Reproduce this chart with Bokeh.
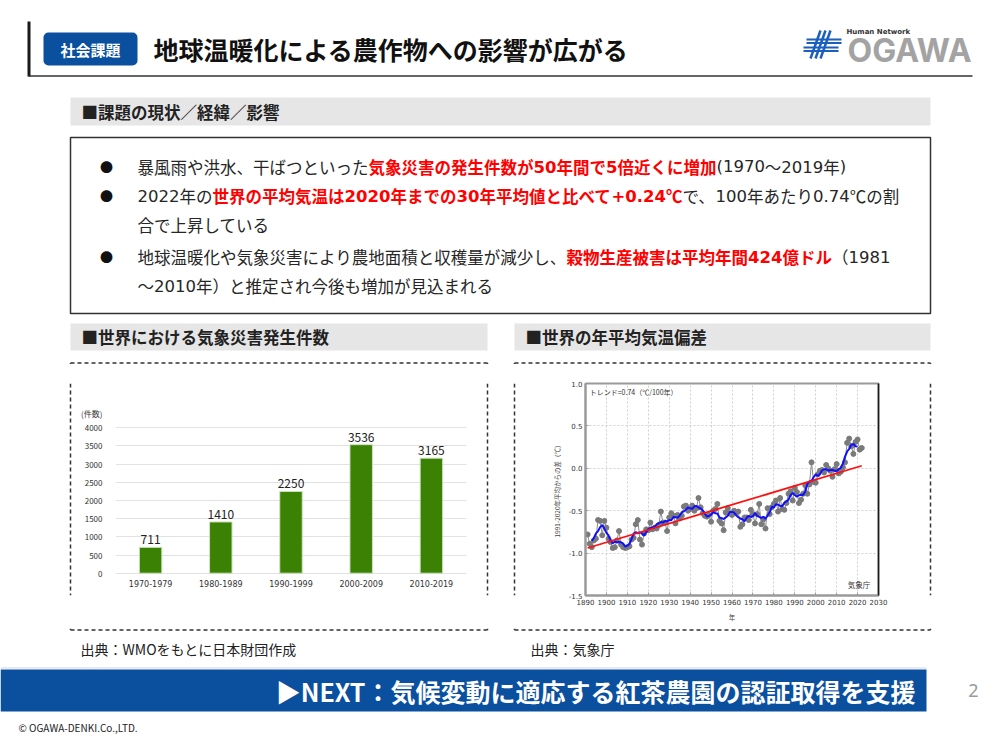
from bokeh.plotting import figure
from bokeh.layouts import column, row
from bokeh.models import (Range1d, FactorRange, ColumnDataSource, Label, FixedTicker,
                          NumeralTickFormatter, LinearAxis)
from bokeh.core.properties import value
from bokeh.embed import file_html
from bokeh.resources import INLINE
import pandas as pd

# ---------------- data ----------------
decades = ["1970-1979", "1980-1989", "1990-1999", "2000-2009", "2010-2019"]
disasters = [711, 1410, 2250, 3536, 3165]
bar_yticks = [0, 500, 1000, 1500, 2000, 2500, 3000, 3500, 4000]
bar_unit_label = "(件数)"
bar_unit_level = 4390

years = list(range(1891, 2023))
anomaly = [
    -0.78, -0.89, -0.93, -0.85, -0.83, -0.61, -0.62, -0.79, -0.62, -0.70,   # 1891-1900
    -0.83, -0.87, -0.94, -0.93, -0.85, -0.74, -0.90, -0.93, -0.94, -0.93,   # 1901-1910
    -0.92, -0.84, -0.82, -0.66, -0.61, -0.84, -0.90, -0.77, -0.72, -0.73,   # 1911-1920
    -0.64, -0.72, -0.70, -0.71, -0.67, -0.51, -0.64, -0.64, -0.74, -0.58,   # 1921-1930
    -0.53, -0.56, -0.65, -0.55, -0.59, -0.56, -0.45, -0.44, -0.50, -0.48,   # 1931-1940
    -0.44, -0.50, -0.47, -0.35, -0.46, -0.53, -0.56, -0.57, -0.55, -0.63,   # 1941-1950
    -0.50, -0.48, -0.42, -0.62, -0.65, -0.73, -0.52, -0.47, -0.53, -0.55,   # 1951-1960
    -0.50, -0.52, -0.51, -0.69, -0.66, -0.58, -0.58, -0.61, -0.49, -0.54,   # 1961-1970
    -0.65, -0.54, -0.42, -0.66, -0.60, -0.71, -0.47, -0.54, -0.46, -0.42,   # 1971-1980
    -0.38, -0.51, -0.35, -0.48, -0.49, -0.41, -0.30, -0.27, -0.38, -0.23,   # 1981-1990
    -0.28, -0.41, -0.37, -0.30, -0.20, -0.30, -0.19, 0.07, -0.16, -0.17,    # 1991-2000
    -0.07, -0.03, -0.02, -0.05, 0.04, 0.00, -0.03, -0.10, -0.01, 0.05,      # 2001-2010
    -0.06, -0.04, 0.01, 0.07, 0.30, 0.35, 0.26, 0.17, 0.31, 0.34,           # 2011-2020
    0.22, 0.24,                                                             # 2021-2022
]
trend_years = [1891, 2022]
trend_values = [-0.94, 0.03]
temp_xticks = list(range(1890, 2031, 10))
temp_yticks = [-1.5, -1.0, -0.5, 0.0, 0.5, 1.0]

# slide texts
title_text = "地球温暖化による農作物への影響が広がる"
badge_text = "社会課題"
section_texts = ["■課題の現状／経緯／影響", "■世界における気象災害発生件数", "■世界の年平均気温偏差"]
bullet_lines = [
    [("暴風雨や洪水、干ばつといった", False), ("気象災害の発生件数が50年間で5倍近くに増加", True), ("(1970～2019年)", False)],
    [("2022年の", False), ("世界の平均気温は2020年までの30年平均値と比べて+0.24℃", True), ("で、100年あたり0.74℃の割", False)],
    [("合で上昇している", False)],
    [("地球温暖化や気象災害により農地面積と収穫量が減少し、", False), ("穀物生産被害は平均年間424億ドル", True), ("（1981", False)],
    [("～2010年）と推定され今後も増加が見込まれる", False)],
]
bullet_marks = [True, True, False, True, False]
source_texts = ["出典：WMOをもとに日本財団作成", "出典：気象庁"]
banner_text = "▶NEXT：気候変動に適応する紅茶農園の認証取得を支援"
copyright_text = "© OGAWA-DENKI.Co.,LTD."

# layout (slide pixels)
line_y = [166, 195, 224, 256, 285]
TEXT_X0 = 137
EM = 16.5

JP = value("Noto Sans CJK JP")
LAT = value("DejaVu Sans")
DARK = "#222222"
BLUE = "#0b4f9f"
GRAYBAR = "#e6e6e6"
DASH = "4 3"


def canvas(w, h, x0, y0):
    p = figure(width=w, height=h, x_range=Range1d(x0, x0 + w), y_range=Range1d(y0 + h, y0),
               toolbar_location=None, output_backend="svg", min_border=0,
               x_axis_location=None, y_axis_location=None)
    p.grid.visible = False
    p.outline_line_color = None
    p.background_fill_color = "white"
    p.border_fill_color = "white"
    return p


def txt(p, x, y, s, size, color=DARK, bold=False, align="left", baseline="middle", font=JP):
    p.text(x=[x], y=[y], text=[s], text_font=font, text_font_size=f"{size}px",
           text_color=color, text_font_style="bold" if bold else "normal",
           text_align=align, text_baseline=baseline)


def ascii_w(ch, bold):
    if ch.isdigit():
        return 0.696 if bold else 0.636
    return {"(": 0.457 if bold else 0.390, ")": 0.457 if bold else 0.390,
            ".": 0.380 if bold else 0.318, "+": 0.838, " ": 0.318}.get(ch, 0.65)


def runs_of(s):
    out, cur, cur_ascii = [], "", None
    for ch in s:
        a = ord(ch) < 128
        if cur and a != cur_ascii:
            out.append((cur, cur_ascii))
            cur = ""
        cur += ch
        cur_ascii = a
    if cur:
        out.append((cur, cur_ascii))
    return out


# ---------------- top canvas ----------------
top = canvas(984, 364, 0, 0)
top.segment(x0=[28.5], y0=[21], x1=[28.5], y1=[76], line_color="#1a1a1a", line_width=3)
top.segment(x0=[28], y0=[75.5], x1=[972], y1=[75.5], line_color="#333333", line_width=1.5)
try:
    top.quad(left=[43], right=[137], top=[32], bottom=[65], fill_color=BLUE, line_color=None, border_radius=5)
except Exception:
    top.quad(left=[43], right=[137], top=[32], bottom=[65], fill_color=BLUE, line_color=None)
txt(top, 90, 48.5, badge_text, 15, color="white", bold=True, align="center")
txt(top, 153, 48, title_text, 25, color="#111111", bold=True)

# logo
logo_blue = "#1b5fbf"
top.segment(x0=[810, 815, 820], y0=[58, 58, 58], x1=[820, 825, 830], y1=[30, 30, 30],
            line_color=logo_blue, line_width=2.5)
top.segment(x0=[806, 806, 803, 803], y0=[39, 42.5, 47, 50.5], x1=[841, 841, 838, 838],
            y1=[39, 42.5, 47, 50.5], line_color=logo_blue, line_width=2.2)
txt(top, 846, 31.5, "Human Network", 7, color="#333333", bold=True, font=LAT)
txt(top, 847, 50, "OGAWA", 32, color="#a3a3a3", bold=True, font=value("Inter"))

# section bars
top.quad(left=[70, 70, 514], right=[930, 487, 930], top=[97, 323, 323], bottom=[125, 350, 350],
         fill_color=GRAYBAR, line_color=None)
txt(top, 81, 111, section_texts[0], 16.5, bold=True)
txt(top, 81, 336.5, section_texts[1], 16.5, bold=True)
txt(top, 525, 336.5, section_texts[2], 16.5, bold=True)

# text box with mixed-style lines
top.quad(left=[70], right=[930], top=[137], bottom=[313], fill_color="white",
         line_color="#333333", line_width=1.5)
for i, segs in enumerate(bullet_lines):
    y = line_y[i]
    if bullet_marks[i]:
        txt(top, 106, y, "●", 13, color="#111111", align="center")
    x = TEXT_X0
    for s, red in segs:
        color = "#ff0000" if red else "#262626"
        for r, is_ascii in runs_of(s):
            if is_ascii:
                txt(top, x, y, r, EM, color=color, bold=red, font=LAT)
                x += sum(ascii_w(c, red) for c in r) * EM
            else:
                txt(top, x, y, r, EM, color=color, bold=red, font=JP)
                x += len(r) * EM

# dashed chart boxes (top edges)
top.segment(x0=[70, 514], y0=[362.5, 362.5], x1=[487, 930], y1=[362.5, 362.5],
            line_color="#333333", line_width=1.5, line_dash=DASH)
top.segment(x0=[70, 487, 514, 930], y0=[362.5] * 4, x1=[70, 487, 514, 930], y1=[364] * 4,
            line_color="#333333", line_width=1.5)


# ---------------- middle row ----------------
def vside(x0, w, xs):
    p = canvas(w, 264, x0, 364)
    p.segment(x0=xs, y0=[364] * len(xs), x1=xs, y1=[628] * len(xs),
              line_color="#333333", line_width=1.5, line_dash=DASH)
    return p


spL = vside(0, 72, [70])
gap = vside(485, 31, [487, 514])
spR = vside(928, 56, [930])

# bar chart: frame 115..466 x 383..595 (slide px); value 0 at 572.7, 4000 at 427.3
px_per_unit = (572.7 - 427.3) / 4000.0
bar_y0 = -(595 - 572.7) / px_per_unit
bar_y1 = 4000 + (427.3 - 383) / px_per_unit
bsrc = ColumnDataSource(dict(decade=decades, count=disasters, label=[str(v) for v in disasters],
                             base=[0] * len(decades)))
pb = figure(width=413, height=264, x_range=FactorRange(*decades), y_range=Range1d(bar_y0, bar_y1),
            toolbar_location=None, output_backend="svg", x_axis_location=None,
            min_border_left=43, min_border_right=19, min_border_top=19, min_border_bottom=33)
pb.outline_line_color = None
pb.background_fill_color = "white"
pb.border_fill_color = "white"
pb.ygrid.ticker = FixedTicker(ticks=bar_yticks)
pb.ygrid.grid_line_color = "#e2e2e2"
pb.xgrid.visible = False
pb.vbar(x="decade", top="count", bottom="base", width=0.32, source=bsrc, fill_color="#3a8104",
        line_color="#cfe3bd", line_width=1)
pb.text(x="decade", y="count", text="label", source=bsrc, text_font=JP, text_font_size="12px",
        text_color="#222222", text_align="center", text_baseline="bottom", y_offset=-3)
pb.text(x="decade", y="base", text="decade", source=bsrc, text_font=LAT, text_font_size="8px",
        text_color="#333333", text_align="center", text_baseline="middle", y_offset=10)
pb.yaxis.ticker = FixedTicker(ticks=bar_yticks + [bar_unit_level])
pb.yaxis.major_label_overrides = {bar_unit_level: bar_unit_label}
pb.yaxis.axis_line_color = None
pb.yaxis.major_tick_line_color = None
pb.yaxis.minor_tick_line_color = None
pb.yaxis.major_label_standoff = 7
pb.yaxis.major_label_text_font_size = "8px"
pb.yaxis.major_label_text_color = "#333333"
pb.yaxis.major_label_text_font = "Noto Sans CJK JP"

# temperature chart: frame 585..878 x 383..595
run_mean = pd.Series(anomaly).rolling(5, center=True).mean()
tsrc = ColumnDataSource(dict(year=years, anom=anomaly, rm=run_mean.tolist()))
pt = figure(width=412, height=264, x_range=Range1d(1890, 2030), y_range=Range1d(-1.5, 1.0),
            toolbar_location=None, output_backend="svg",
            min_border_left=69, min_border_right=50, min_border_top=19, min_border_bottom=33)
pt.background_fill_color = "white"
pt.border_fill_color = "white"
pt.outline_line_color = "#9a9a9a"
pt.outline_line_width = 2
pt.xaxis.ticker = FixedTicker(ticks=temp_xticks)
pt.yaxis.ticker = FixedTicker(ticks=temp_yticks)
pt.yaxis.formatter = NumeralTickFormatter(format="0.0")
pt.grid.grid_line_color = "#d0d0d0"
pt.grid.grid_line_dash = "2 2"
pt.axis.axis_line_color = "#9a9a9a"
pt.axis.axis_line_width = 2
pt.axis.major_tick_in = 3
pt.axis.major_tick_out = 0
pt.axis.major_tick_line_color = "#9a9a9a"
pt.axis.minor_tick_line_color = None
pt.axis.major_label_text_font_size = "7px"
pt.axis.major_label_text_color = "#333333"
pt.axis.major_label_text_font = "DejaVu Sans"
pt.axis.major_label_standoff = 3
pt.xaxis.axis_label = "年"
pt.yaxis.axis_label = "1991-2020年平均からの差（℃）"
pt.axis.axis_label_text_font = "Noto Sans CJK JP"
pt.axis.axis_label_text_font_size = "6.5px"
pt.axis.axis_label_text_font_style = "normal"
pt.axis.axis_label_text_color = "#444444"
pt.axis.axis_label_standoff = 4
right_edge = LinearAxis(ticker=FixedTicker(ticks=[]), axis_line_color="#1a1a1a", axis_line_width=1.5,
                        major_tick_line_color=None, minor_tick_line_color=None,
                        major_label_text_font_size="0px")
pt.add_layout(right_edge, "right")
pt.line(x="year", y="anom", source=tsrc, line_color="#8c8c8c", line_width=1)
pt.scatter(x="year", y="anom", source=tsrc, size=5, fill_color="#7a7a7a", line_color="#7a7a7a")
pt.line(x="year", y="rm", source=tsrc, line_color="#1010ff", line_width=2)
pt.line(x=trend_years, y=trend_values, line_color="#ff1010", line_width=1.8)
pt.add_layout(Label(x=1892, y=0.9, text="トレンド=0.74（℃/100年）", text_font_size="7px",
                    text_color="#333333", text_baseline="middle", text_font="Noto Sans CJK JP"))
pt.add_layout(Label(x=2026, y=-1.37, text="気象庁", text_font_size="7.5px", text_align="right",
                    text_color="#333333", text_baseline="middle", text_font="Noto Sans CJK JP"))

# ---------------- bottom canvas ----------------
bot = canvas(984, 106, 0, 628)
bot.segment(x0=[70, 514], y0=[629.5, 629.5], x1=[487, 930], y1=[629.5, 629.5],
            line_color="#333333", line_width=1.5, line_dash=DASH)
bot.segment(x0=[70, 487, 514, 930], y0=[628] * 4, x1=[70, 487, 514, 930], y1=[629.5] * 4,
            line_color="#333333", line_width=1.5)
txt(bot, 80, 648, source_texts[0], 14)
txt(bot, 530, 648, source_texts[1], 14)
bot.segment(x0=[0], y0=[667.5], x1=[926], y1=[667.5], line_color="#cfd6e2", line_width=1)
bot.quad(left=[0], right=[926], top=[669], bottom=[711], fill_color=BLUE, line_color=None)
txt(bot, 915, 690, banner_text, 25, color="white", bold=True, align="right")
txt(bot, 973, 690, "2", 18, color="#9a9a9a", align="center", font=value("Noto Sans"))
txt(bot, 18, 727, copyright_text, 10, color="#222222", font=JP)

layout = column(top, row(spL, pb, gap, pt, spR), bot)
open("out.html", "w").write(file_html(layout, INLINE))
